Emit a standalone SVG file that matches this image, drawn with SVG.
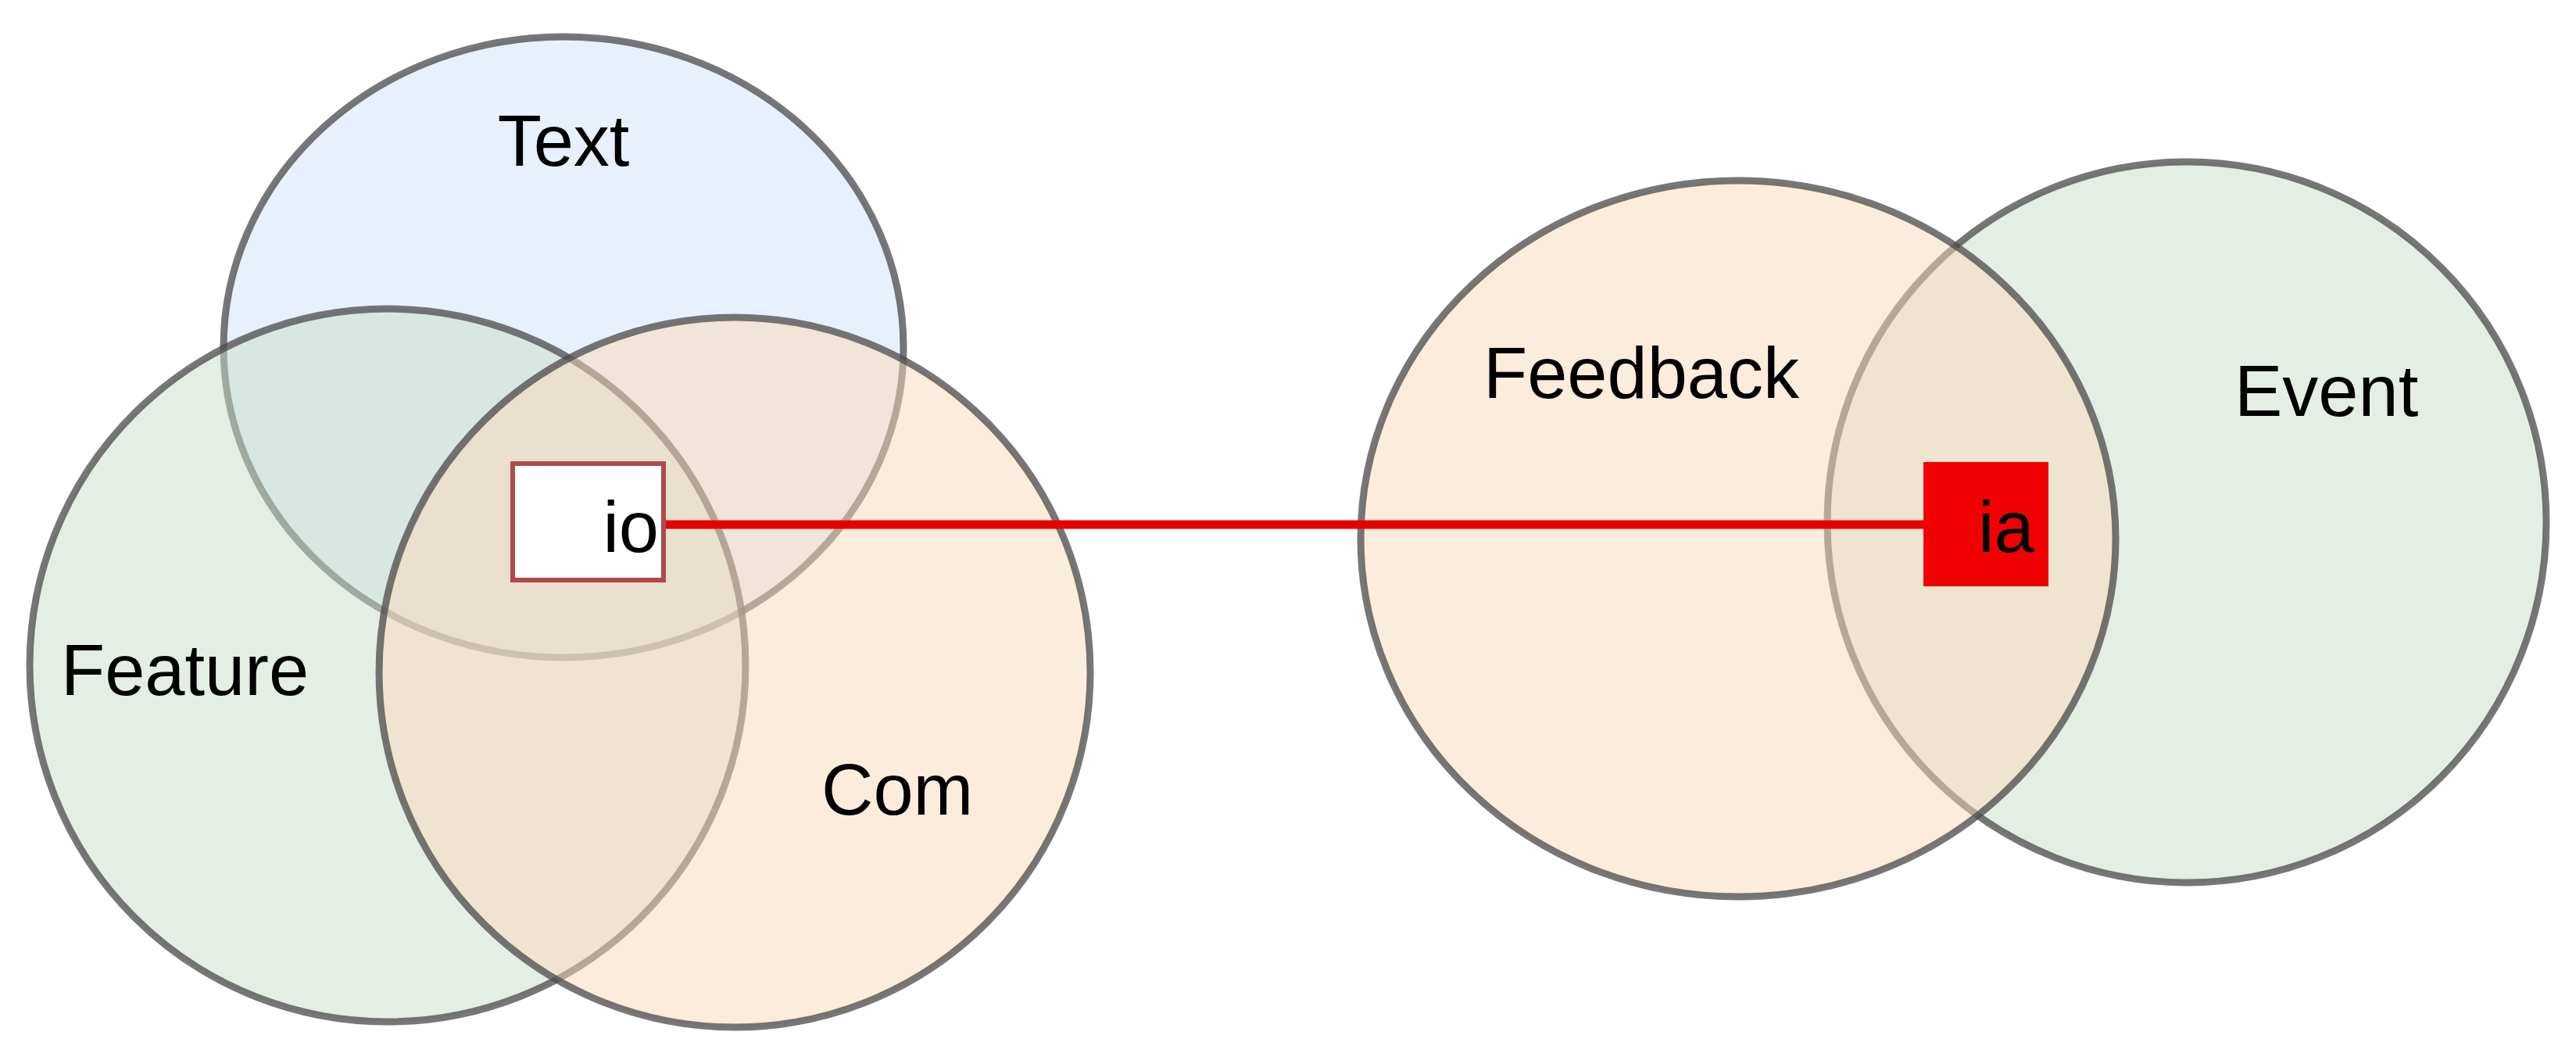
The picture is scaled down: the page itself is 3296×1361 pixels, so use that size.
<svg xmlns="http://www.w3.org/2000/svg" width="3296" height="1361" viewBox="0 0 3296 1361">
<style>
.c{stroke:#4a4a4a;stroke-width:9;stroke-opacity:0.75;fill-opacity:0.5}
.t{font-family:"Liberation Sans",Arial,sans-serif;font-size:92px;fill:#000}
</style>
<rect width="3296" height="1361" fill="#fff"/>
<g id="text"><ellipse class="c" cx="721" cy="444" rx="435" ry="397" fill="#d2e2f8"/><text class="t" x="721" y="212" text-anchor="middle">Text</text></g>
<g id="feature"><ellipse class="c" cx="496" cy="851" rx="458" ry="456" fill="#c9dec9"/><text class="t" x="78" y="889">Feature</text></g>
<g id="com"><ellipse class="c" cx="940" cy="860" rx="455" ry="454" fill="#fad9b9"/><text class="t" x="1051" y="1042">Com</text></g>
<g id="event"><ellipse class="c" cx="2798" cy="668" rx="460" ry="461" fill="#c9dec9"/><text class="t" x="2859" y="532">Event</text></g>
<g id="feedback"><ellipse class="c" cx="2224" cy="689" rx="483" ry="458" fill="#fad9b9"/><text class="t" x="1898" y="509">Feedback</text></g>
<g id="connectors"><line x1="851" y1="671" x2="2461" y2="671" stroke="#e60000" stroke-width="11"/></g>
<g id="io"><rect x="656" y="593" width="193" height="149" fill="#fff" stroke="#b04a4a" stroke-width="6"/><text class="t" x="843" y="706" text-anchor="end">io</text></g>
<g id="ia"><rect x="2461" y="591" width="160" height="159" fill="#f00000"/><text class="t" x="2531" y="706">ia</text></g>
</svg>
